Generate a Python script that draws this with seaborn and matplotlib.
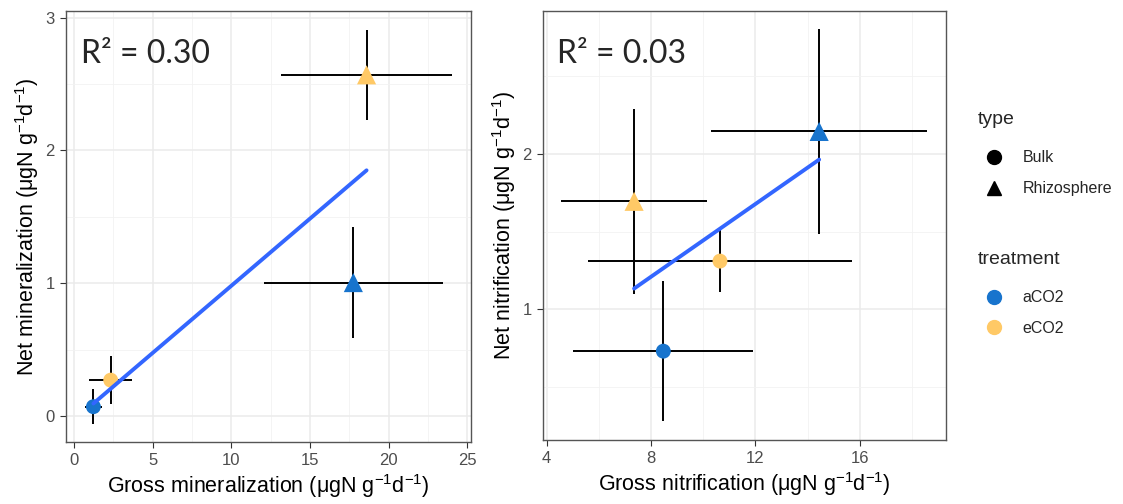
import numpy as np
import pandas as pd
import matplotlib.pyplot as plt
import seaborn as sns
from matplotlib.lines import Line2D
from matplotlib.ticker import AutoMinorLocator

#%% Data

treatment = ["aCO2", "eCO2", "aCO2", "eCO2"]
soil_type = ["Bulk", "Bulk", "Rhizosphere", "Rhizosphere"]

gross_min = [1.23, 2.33, 17.76, 18.6]
gross_min_se = [0.56, 1.36, 5.67, 5.45]
net_min = [0.07, 0.27, 1.005, 2.57]
net_min_se = [0.13, 0.18, 0.415, 0.34]

gross_nit = [8.47, 10.64, 14.44, 7.35]
gross_nit_se = [3.45, 5.05, 4.14, 2.8]
net_nit = [0.73, 1.31, 2.145, 1.695]
net_nit_se = [0.45, 0.2, 0.66, 0.595]

r2_labels = ["R\u00b2 = 0.30", "R\u00b2 = 0.03"]

df = pd.DataFrame({"treatment": treatment, "type": soil_type,
                   "gross_min": gross_min, "gross_min_se": gross_min_se,
                   "net_min": net_min, "net_min_se": net_min_se,
                   "gross_nit": gross_nit, "gross_nit_se": gross_nit_se,
                   "net_nit": net_nit, "net_nit_se": net_nit_se})

palette = {"aCO2": "#1874CD", "eCO2": "#FFC966"}
markers = {"Bulk": "o", "Rhizosphere": "^"}
sizes = {"Bulk": 115, "Rhizosphere": 190}

#%% Theme

sns.set_theme(style="whitegrid")
plt.rcParams["font.family"] = ["Liberation Sans", "DejaVu Sans"]
plt.rcParams["mathtext.fontset"] = "custom"
plt.rcParams["mathtext.rm"] = "Liberation Sans"
plt.rcParams["mathtext.it"] = "Liberation Sans:italic"
plt.rcParams["xtick.major.size"] = 4
plt.rcParams["ytick.major.size"] = 4
plt.rcParams["xtick.minor.size"] = 0
plt.rcParams["ytick.minor.size"] = 0
plt.rcParams["xtick.bottom"] = True
plt.rcParams["ytick.left"] = True

fig = plt.figure(figsize=(11.23, 5.04), dpi=100)
ax1 = fig.add_axes([0.0588, 0.123, 0.3606, 0.855])
ax2 = fig.add_axes([0.4833, 0.127, 0.3591, 0.851])

unit = r"$\mathregular{(\mu gN\ g^{-1}d^{-1})}$"


def panel(ax, x, y, xe, ye, xlabel, ylabel, r2):
    ax.errorbar(df[x], df[y], xerr=df[xe], yerr=df[ye], fmt="none",
                ecolor="black", elinewidth=1.4, capsize=0, zorder=2)
    sns.scatterplot(data=df, x=x, y=y, hue="treatment", style="type",
                    size="type", sizes=sizes, palette=palette,
                    markers=markers, linewidth=0, legend=False, zorder=3,
                    ax=ax)
    sns.regplot(data=df, x=x, y=y, scatter=False, ci=None, ax=ax,
                line_kws=dict(color="#3366FF", lw=2.8, zorder=4))
    ax.set_xlabel(xlabel, fontsize=15.5, color="black", labelpad=3)
    ax.set_ylabel(ylabel, fontsize=15.5, color="black", labelpad=3)
    ax.tick_params(which="major", labelsize=12, labelcolor="#4D4D4D",
                   color="#333333", width=0.8, pad=4)
    ax.xaxis.set_minor_locator(AutoMinorLocator(2))
    ax.yaxis.set_minor_locator(AutoMinorLocator(2))
    ax.grid(which="major", color="#EBEBEB", lw=1.1)
    ax.grid(which="minor", color="#F2F2F2", lw=0.6)
    ax.set_axisbelow(True)
    for s in ax.spines.values():
        s.set_color("#555555")
        s.set_linewidth(1.0)
    ax.text(0.036, 0.879, r2, transform=ax.transAxes, fontsize=23,
            family=["Lato", "DejaVu Sans"], va="baseline", ha="left")


panel(ax1, "gross_min", "net_min", "gross_min_se", "net_min_se",
      "Gross mineralization " + unit, "Net mineralization " + unit, r2_labels[0])
ax1.set_xlim(-0.51, 25.24)
ax1.set_ylim(-0.196, 3.05)
ax1.set_xticks([0, 5, 10, 15, 20, 25])
ax1.set_yticks([0, 1, 2, 3])

panel(ax2, "gross_nit", "net_nit", "gross_nit_se", "net_nit_se",
      "Gross nitrification " + unit, "Net nitrification " + unit, r2_labels[1])
ax2.set_xlim(3.85, 19.3)
ax2.set_ylim(0.158, 2.92)
ax2.set_xticks([4, 8, 12, 16])
ax2.set_yticks([1, 2])

#%% Legends

type_handles = [Line2D([], [], marker=markers[t], color="black", ls="none",
                       markersize=10) for t in ["Bulk", "Rhizosphere"]]
leg1 = fig.legend(type_handles, ["Bulk", "Rhizosphere"], title="type",
                  loc="upper left", bbox_to_anchor=(0.858, 0.808),
                  frameon=False, fontsize=11.5, title_fontsize=14,
                  alignment="left", labelspacing=1.0, handletextpad=0.8)
leg1._legend_box.sep = 16

treat_handles = [Line2D([], [], marker="o", color=palette[t], ls="none",
                        markersize=10) for t in ["aCO2", "eCO2"]]
leg2 = fig.legend(treat_handles, ["aCO2", "eCO2"], title="treatment",
                  loc="upper left", bbox_to_anchor=(0.858, 0.53),
                  frameon=False, fontsize=11.5, title_fontsize=14,
                  alignment="left", labelspacing=0.95, handletextpad=0.8)
leg2._legend_box.sep = 16

fig.savefig("out.png", dpi=100)
